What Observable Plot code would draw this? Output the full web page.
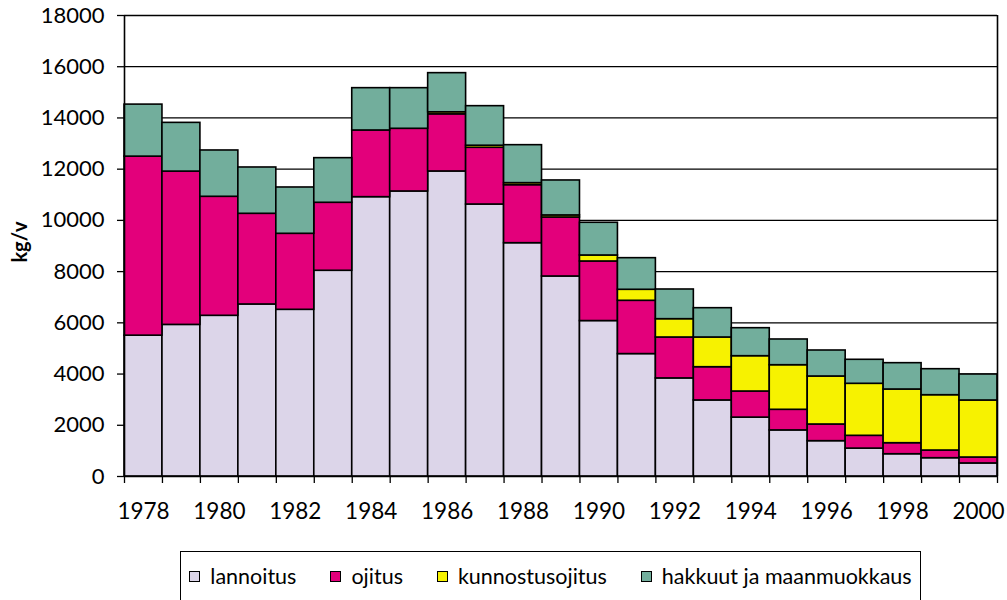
<!DOCTYPE html>
<html><head><meta charset="utf-8">
<script src="https://cdn.jsdelivr.net/npm/d3@7"></script>
<script src="https://cdn.jsdelivr.net/npm/@observablehq/plot@0.6"></script>
<style>
body{margin:0;background:#fff;font-family:Lato,"Open Sans",sans-serif;}
#chart{position:absolute;left:0;top:0;}
#ytitle{position:absolute;left:19px;top:242px;transform:translate(-50%,-50%) rotate(-90deg);font-weight:bold;font-size:20px;white-space:nowrap;}
#legend{position:absolute;left:180px;top:551px;width:741px;height:70px;border:1.5px solid #000;box-sizing:border-box;display:flex;align-items:flex-start;justify-content:center;padding-top:11px;gap:34px;font-size:21.5px;color:#000;}
.item{display:flex;align-items:center;}
.sw{width:9px;height:9px;border:1.6px solid #000;margin-right:10px;}
</style></head><body>
<div id="chart"></div>
<div id="ytitle"></div>
<div id="legend"></div>
<script>
const years = [1978,1979,1980,1981,1982,1983,1984,1985,1986,1987,1988,1989,1990,1991,1992,1993,1994,1995,1996,1997,1998,1999,2000];
const seriesNames = ["lannoitus","ojitus","kunnostusojitus","hakkuut ja maanmuokkaus"];
const seriesColors = ["#dcd5e9","#e3007b","#f7f200","#72ae9c"];
const lannoitus = [5500,5920,6275,6717,6509,8033,10907,11129,11910,10620,9110,7810,6070,4780,3830,2970,2300,1800,1380,1090,870,715,510];
const ojitus = [6990,5986,4647,3541,2968,2655,2604,2448,2231,2216,2265,2304,2326,2081,1598,1298,1019,805,651,499,431,300,232];
const kunnostusojitus = [0,0,0,0,0,0,0,0,80,80,80,80,234,430,715,1160,1379,1741,1874,2031,2096,2160,2226];
const hakkuut = [2031,1902,1808,1808,1808,1742,1652,1586,1528,1544,1482,1365,1277,1234,1159,1144,1093,1004,1015,937,1028,1015,1015];
const yTicks = [0,2000,4000,6000,8000,10000,12000,14000,16000,18000];
const xTickLabels = ["1978","1980","1982","1984","1986","1988","1990","1992","1994","1996","1998","2000"];
const yTitle = "kg/v";

const valuesBySeries = [lannoitus, ojitus, kunnostusojitus, hakkuut];
const rows = years.map((year, i) => {
  const r = {year};
  seriesNames.forEach((s, k) => r[s] = valuesBySeries[k][i]);
  return r;
});
const stacked = d3.stack().keys(seriesNames)(rows);
const rects = [];
stacked.forEach(layer => {
  layer.forEach(seg => {
    if (seg[1] > seg[0]) rects.push({year: seg.data.year, series: layer.key, y1: seg[0], y2: seg[1]});
  });
});
const boundaries = years.concat([years[years.length - 1] + 1]);
const labelPos = xTickLabels.map(t => Number(t) + 0.5);

const chart = Plot.plot({
  width: 1007,
  height: 540,
  marginLeft: 124,
  marginRight: 10,
  marginTop: 15,
  marginBottom: 64,
  style: {fontFamily: "Lato, 'Open Sans', sans-serif", fontSize: "22px", color: "#000", background: "#fff"},
  x: {type: "linear", domain: [years[0], years[years.length - 1] + 1], axis: null},
  y: {domain: [0, 18000], axis: null},
  color: {domain: seriesNames, range: seriesColors},
  marks: [
    Plot.gridY(yTicks.filter(d => d > 0), {stroke: "#000", strokeOpacity: 1, strokeWidth: 1.3}),
    Plot.rect(rects, {x1: "year", x2: d => d.year + 1, y1: "y1", y2: "y2", fill: "series", stroke: "#000", strokeWidth: 1.6}),
    Plot.ruleX([years[0]], {stroke: "#000", strokeWidth: 1.6}),
    Plot.ruleX([years[years.length - 1] + 1], {stroke: "#000", strokeWidth: 1.6}),
    Plot.ruleY([0], {stroke: "#000", strokeWidth: 1.6}),
    Plot.axisY(yTicks, {tickSize: 7, tickPadding: 13, tickFormat: d3.format("d"), stroke: "#000", strokeWidth: 1.3, fontSize: 22, label: null}),
    Plot.axisX(boundaries, {tickSize: 7, tickFormat: () => "", stroke: "#000", strokeWidth: 1.3, label: null}),
    Plot.axisX(labelPos, {tickSize: 0, tickPadding: 27, tickFormat: d => String(Math.round(d - 0.5)), fontSize: 22.5, label: null})
  ]
});
document.getElementById("chart").appendChild(chart);
document.getElementById("ytitle").textContent = yTitle;

const legend = document.getElementById("legend");
seriesNames.forEach((s, k) => {
  const item = document.createElement("div");
  item.className = "item";
  const sw = document.createElement("div");
  sw.className = "sw";
  sw.style.background = seriesColors[k];
  const t = document.createElement("span");
  t.textContent = s;
  item.appendChild(sw);
  item.appendChild(t);
  legend.appendChild(item);
});
</script>
</body></html>
